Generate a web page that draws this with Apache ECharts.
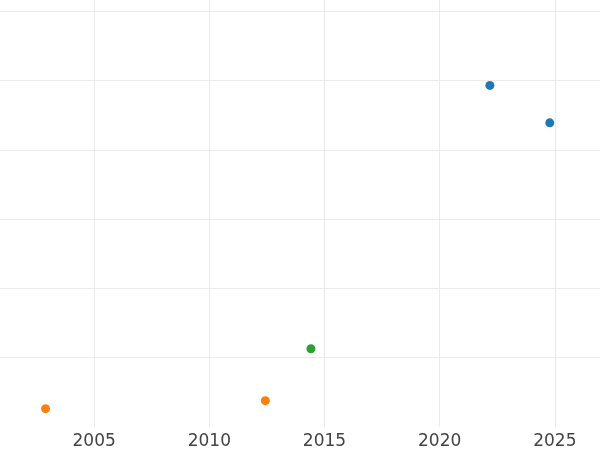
<!DOCTYPE html>
<html>
<head>
<meta charset="utf-8">
<script src="https://cdn.jsdelivr.net/npm/echarts@6/dist/echarts.min.js"></script>
<style>html,body{margin:0;padding:0;background:#fff;overflow:hidden;width:600px;height:450px;position:relative}
#c{position:absolute;left:-20.6px;top:-58.4px;width:690.8px;height:508.4px}</style>
</head>
<body>
<div id="c"></div>
<script>
// Data
const seriesNames = ['A', 'B', 'C'];
const seriesColors = ['#1f77b4', '#ff7f0e', '#2ca02c'];
const blueYears = [2022.18, 2024.78];
const blueValues = [4.93, 4.39];
const orangeYears = [2002.89, 2012.43];
const orangeValues = [0.265, 0.38];
const greenYears = [2014.41];
const greenValues = [1.13];
const xTicks = [2000, 2005, 2010, 2015, 2020, 2025, 2030];

const pairs = (xs, ys) => xs.map((x, i) => [x, ys[i]]);
const allX = [blueYears, orangeYears, greenYears];
const allY = [blueValues, orangeValues, greenValues];

const chart = echarts.init(document.getElementById('c'), null, {renderer: 'canvas'});
chart.setOption({
  animation: false,
  backgroundColor: '#fff',
  grid: {left: 0, right: 0, top: 0, bottom: 22.6, containLabel: false},
  xAxis: {
    type: 'value', min: xTicks[0], max: xTicks[xTicks.length - 1], interval: 5,
    axisLine: {show: false}, axisTick: {show: false},
    axisLabel: {color: '#444', fontFamily: 'DejaVu Sans', fontSize: 17, margin: 6,
      showMinLabel: false, showMaxLabel: false, formatter: v => String(v)},
    splitLine: {show: true, lineStyle: {color: '#ebebeb', width: 1}}
  },
  yAxis: {
    type: 'value', min: 0, max: 7, interval: 1,
    axisLine: {show: false}, axisTick: {show: false}, axisLabel: {show: false},
    splitLine: {show: true, lineStyle: {color: ['rgba(0,0,0,0)', '#ebebeb', '#ebebeb', '#ebebeb', '#ebebeb', '#ebebeb', '#ebebeb', '#ebebeb'], width: 1}}
  },
  series: seriesNames.map((n, i) => ({
    name: n, type: 'scatter', symbol: 'circle', symbolSize: 9,
    itemStyle: {color: seriesColors[i], opacity: 1},
    data: pairs(allX[i], allY[i])
  }))
});
</script>
</body>
</html>
